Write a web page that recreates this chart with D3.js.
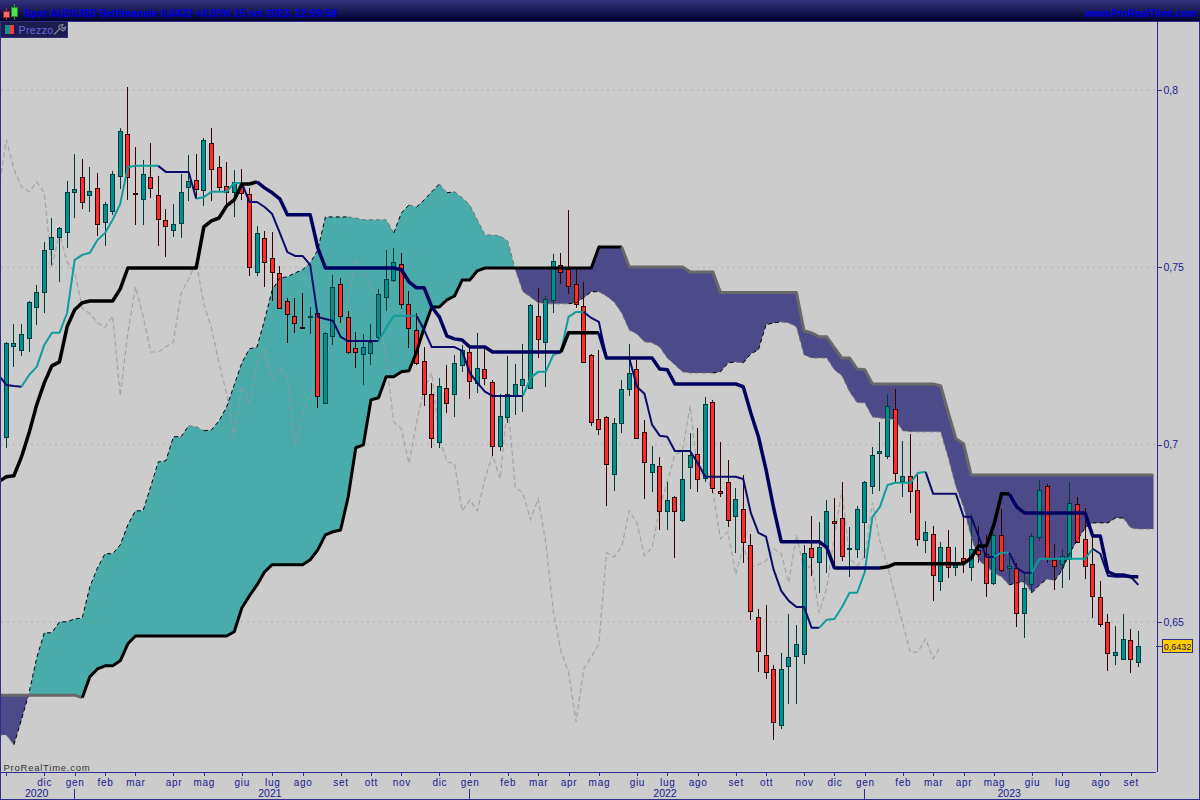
<!DOCTYPE html>
<html>
<head>
<meta charset="utf-8">
<title>Spot AUD/USD</title>
<script src="https://cdn.jsdelivr.net/npm/d3@7"></script>
<style>
  html, body { margin: 0; padding: 0; background: #cccccc; overflow: hidden; }
  svg { display: block; }
  text { font-family: "Liberation Sans", Arial, sans-serif; }
  .axis path, .axis line { stroke: #2e2e8c; shape-rendering: crispEdges; }
  .axis text { fill: #1a1a8c; }
</style>
</head>
<body>
<div id="chart"></div>
<script>
// weekly candles, values in pips (price x 10000), first candle = week 0
const high = [
  7290,7340,7340,7405,7450,7572,7639,7614,7744,7820,
  7806,7783,7766,7684,7772,7893,8009,7839,7803,7851,
  7758,7665,7679,7763,7817,7820,7865,7893,7814,7797,
  7775,7777,7724,7617,7603,7600,7504,7414,7414,7428,
  7388,7374,7318,7478,7470,7377,7318,7312,7340,7439,
  7549,7555,7541,7433,7371,7275,7174,7188,7225,7253,
  7281,7273,7315,7273,7182,7143,7250,7228,7284,7397,
  7442,7419,7538,7541,7662,7495,7459,7256,7267,7081,
  7075,7182,7284,7239,7070,6996,6965,6895,6855,6979,
  7033,7047,7134,7126,7008,6957,6878,6915,6748,6537,
  6548,6379,6413,6523,6491,6717,6799,6782,6844,6850,
  6895,6768,6827,6898,6993,7064,7143,7157,7010,7030,
  6915,6785,6771,6726,6759,6711,6796,6805,6771,6745,
  6751,6819,6686,6666,6638,6751,6900,6889,6720,6706,
  6895,6852,6821,6740,6616,6522,6489,6522,6480,6475];
const low = [
  6991,7219,7250,7261,7338,7371,7507,7459,7555,7639,
  7665,7656,7588,7560,7648,7721,7690,7620,7620,7696,
  7560,7529,7586,7583,7687,7696,7673,7687,7713,7676,
  7642,7690,7476,7476,7445,7405,7385,7287,7315,7326,
  7312,7103,7115,7281,7343,7256,7216,7168,7225,7292,
  7377,7459,7383,7273,7225,7109,6991,6991,7089,7078,
  7205,7129,7146,7168,6968,6982,7061,7084,7092,7157,
  7244,7163,7371,7453,7425,7385,7233,7053,7027,6827,
  6869,7033,7137,7016,6847,6867,6759,6759,6680,6782,
  6875,6867,6895,6864,6852,6768,6695,6666,6506,6359,
  6339,6167,6198,6269,6269,6382,6630,6582,6638,6664,
  6672,6627,6680,6680,6861,6869,6960,6892,6852,6807,
  6714,6695,6559,6587,6624,6630,6638,6616,6666,6570,
  6604,6641,6610,6486,6455,6582,6728,6666,6590,6596,
  6618,6723,6621,6511,6486,6362,6379,6396,6356,6373];
const open = [
  7022,7278,7267,7301,7388,7431,7552,7586,7600,7713,
  7755,7704,7724,7628,7659,7758,7876,7710,7693,7755,
  7704,7634,7605,7625,7727,7746,7718,7851,7783,7730,
  7713,7727,7707,7487,7583,7526,7484,7405,7363,7332,
  7359,7371,7117,7306,7453,7360,7273,7256,7259,7304,
  7416,7464,7510,7397,7323,7236,7143,7008,7160,7143,
  7225,7261,7174,7213,7177,6996,7078,7137,7168,7160,
  7363,7290,7408,7507,7495,7453,7391,7253,7072,7079,
  6917,7061,7157,7213,7036,6923,6940,6813,6852,6788,
  6937,6974,6906,7120,6869,6895,6799,6819,6717,6514,
  6407,6367,6209,6376,6404,6410,6709,6669,6714,6785,
  6793,6706,6706,6782,6883,6977,6968,7101,6898,6912,
  6872,6731,6748,6616,6711,6655,6680,6655,6703,6692,
  6610,6745,6652,6652,6525,6607,6740,6883,6675,6664,
  6678,6833,6734,6664,6570,6500,6407,6396,6449,6387];
const close = [
  7287,7287,7312,7402,7431,7549,7586,7611,7713,7721,
  7684,7715,7622,7679,7763,7885,7755,7709,7763,7724,
  7636,7617,7622,7713,7744,7721,7859,7777,7727,7713,
  7741,7710,7501,7597,7515,7487,7385,7369,7343,7331,
  7363,7137,7315,7445,7363,7261,7261,7275,7290,7425,
  7467,7515,7397,7329,7230,7143,7019,7166,7118,7230,
  7267,7180,7216,7188,6996,7081,7143,7171,7185,7394,
  7298,7411,7518,7487,7447,7397,7233,7064,7044,6946,
  7061,7157,7202,7019,6951,6946,6813,6844,6813,6903,
  6971,6903,7115,6878,6864,6788,6847,6726,6531,6418,
  6359,6218,6367,6401,6438,6695,6683,6711,6813,6779,
  6686,6709,6819,6895,6971,6982,7109,6920,6912,6869,
  6734,6754,6633,6711,6655,6661,6672,6706,6692,6610,
  6745,6647,6658,6525,6596,6742,6872,6680,6658,6686,
  6836,6726,6658,6573,6494,6413,6415,6452,6396,6432];

// ichimoku lines, these start one week before the first candle (week -1)
const tenkan = [7196,
  7168,7165,7163,7196,7219,7281,7315,7315,7371,7521,
  7535,7541,7577,7597,7634,7679,7783,7786,7786,7786,
  7786,7769,7769,7769,7769,7693,7698,7713,7713,7713,
  7738,7738,7684,7684,7670,7650,7597,7543,7532,7532,
  7507,7360,7354,7349,7304,7292,7292,7292,7292,7292,
  7329,7363,7363,7363,7363,7323,7275,7275,7275,7275,
  7264,7202,7174,7149,7137,7137,7137,7137,7137,7188,
  7205,7205,7253,7261,7360,7374,7374,7357,7346,7244,
  7244,7244,7244,7163,7143,7056,7025,7022,6982,6982,
  6982,6948,6909,6909,6909,6909,6909,6903,6807,6751,
  6740,6647,6587,6559,6542,6542,6483,6483,6506,6508,
  6542,6582,6582,6641,6796,6824,6886,6892,6892,6892,
  6920,6923,6861,6861,6861,6861,6796,6796,6740,6683,
  6683,6695,6695,6652,6638,6638,6678,6678,6678,6678,
  6678,6678,6678,6706,6692,6630,6627,6627,6627,6604];
const kijun = [6895,
  6909,6912,6965,7033,7112,7174,7222,7233,7332,7380,
  7400,7405,7405,7405,7405,7439,7498,7498,7498,7498,
  7498,7498,7498,7498,7498,7498,7614,7631,7639,7673,
  7690,7735,7735,7741,7724,7710,7693,7648,7648,7648,
  7648,7555,7498,7498,7498,7498,7498,7498,7498,7498,
  7498,7498,7493,7459,7442,7442,7388,7360,7306,7298,
  7295,7275,7275,7275,7261,7261,7261,7261,7261,7261,
  7261,7261,7261,7261,7315,7315,7315,7315,7315,7244,
  7244,7244,7244,7244,7244,7244,7213,7211,7171,7171,
  7171,7171,7171,7171,7171,7171,7171,7163,7089,7022,
  6929,6821,6726,6726,6726,6726,6726,6726,6709,6652,
  6652,6652,6652,6652,6652,6652,6655,6664,6664,6664,
  6664,6664,6664,6664,6664,6664,6664,6680,6714,6714,
  6774,6861,6861,6824,6807,6807,6807,6807,6807,6807,
  6807,6807,6807,6742,6742,6641,6632,6632,6627,6627];
const spanA = [6181,
  6181,6153,6224,6300,6398,6469,6469,6500,6500,6508,
  6511,6599,6652,6692,6692,6717,6774,6813,6813,6881,
  6951,6954,7022,7022,7053,7050,7039,7041,7067,7106,
  7168,7230,7270,7275,7352,7436,7470,7473,7484,7493,
  7512,7549,7642,7642,7642,7642,7639,7634,7634,7634,
  7634,7597,7653,7676,7670,7690,7713,7735,7710,7713,
  7696,7676,7634,7591,7591,7588,7574,7493,7431,7416,
  7400,7397,7397,7397,7397,7400,7414,7431,7431,7419,
  7402,7371,7323,7312,7290,7287,7275,7244,7225,7205,
  7202,7202,7202,7202,7205,7230,7233,7230,7256,7267,
  7338,7343,7346,7343,7332,7253,7244,7244,7244,7211,
  7194,7149,7118,7118,7078,7075,7072,7070,7039,7036,
  7036,7036,7036,7036,6962,6881,6824,6740,6675,6655,
  6638,6627,6604,6610,6613,6582,6604,6621,6616,6647,
  6695,6731,6765,6779,6779,6779,6793,6793,6765,6762,
  6762,6762];
const spanB = [6293,
  6293,6293,6293,6293,6293,6293,6293,6293,6293,6293,
  6286,6345,6367,6376,6376,6390,6438,6460,6460,6460,
  6460,6460,6460,6460,6460,6460,6460,6460,6460,6460,
  6472,6539,6573,6604,6641,6661,6661,6661,6661,6661,
  6675,6703,6745,6754,6759,6852,6991,6999,7126,7132,
  7191,7191,7205,7208,7261,7329,7388,7388,7408,7419,
  7464,7464,7490,7498,7498,7498,7498,7498,7498,7498,
  7498,7498,7498,7498,7498,7498,7498,7498,7557,7557,
  7557,7557,7501,7501,7501,7501,7501,7501,7501,7501,
  7487,7487,7487,7487,7429,7429,7429,7429,7429,7429,
  7429,7429,7429,7429,7429,7321,7315,7304,7304,7273,
  7244,7244,7213,7211,7171,7171,7171,7171,7171,7171,
  7171,7171,7171,7165,7089,7016,7002,6914,6914,6914,
  6914,6914,6914,6914,6914,6914,6914,6914,6914,6914,
  6914,6914,6914,6914,6914,6914,6914,6914,6914,6914,
  6914,6914];
const lagging = [
  7721,7859,7777,7727,7713,7741,7710,7501,7597,7515,
  7487,7385,7369,7343,7331,7363,7137,7315,7445,7363,
  7261,7261,7275,7290,7425,7467,7515,7397,7329,7230,
  7143,7019,7166,7118,7230,7267,7180,7216,7188,6996,
  7081,7143,7171,7185,7394,7298,7411,7518,7487,7447,
  7397,7233,7064,7044,6946,7061,7157,7202,7019,6951,
  6946,6813,6844,6813,6903,6971,6903,7115,6878,6864,
  6788,6847,6726,6531,6418,6359,6218,6367,6401,6438,
  6695,6683,6711,6813,6779,6686,6709,6819,6895,6971,
  6982,7109,6920,6912,6869,6734,6754,6633,6711,6655,
  6661,6672,6706,6692,6610,6745,6647,6658,6525,6596,
  6742,6872,6680,6658,6686,6836,6726,6658,6573,6494,
  6413,6415,6452,6396,6432];

// axis labels
const monthWeeks = [0,5,9,13,17,22,26,31,35,39,44,48,52,57,61,66,70,74,78,83,87,91,96,100,105,109,113,118,122,126,130,135,139,144,148];
const monthNames = ['','dic','gen','feb','mar','apr','mag','giu','lug','ago','set','ott','nov','dic','gen','feb','mar','apr','mag','giu','lug','ago','set','ott','nov','dic','gen','feb','mar','apr','mag','giu','lug','ago','set'];
const yearWeeks = [9,61,113];
const yearNames = ['2020','2021','2022','2023'];
const yearLabelWeeks = [4,34.7,86.7,132];
const priceTicks = [0.8,0.75,0.7,0.65];
const lastPrice = 0.6432;
const titleText = 'Spot AUD/USD  Settimanale 0,6432 +0,03% 15 set 2023, 22:59:58';

const svg_width = 1200;
const svg_height = 800;
const plot = {left:1, right:1156, top:22, bottom:772};

const svg = d3.select('#chart').append('svg')
    .attr('width', svg_width).attr('height', svg_height);

// scales: week number -> x, price -> y
const xScale = d3.scaleLinear().domain([0,149]).range([6.3,1138.3]);
const yScale = d3.scaleLinear().domain([0.8,0.65]).range([90,621.8]);
const yPips = p => yScale(p/10000);

const defs = svg.append('defs');
const headGrad = defs.append('linearGradient').attr('id','headGrad')
    .attr('x1',0).attr('x2',0).attr('y1',0).attr('y2',1);
headGrad.append('stop').attr('offset',0).attr('stop-color','#34347e');
headGrad.append('stop').attr('offset',1).attr('stop-color','#000030');
defs.append('clipPath').attr('id','plotClip').append('rect')
    .attr('x',plot.left).attr('y',plot.top)
    .attr('width',plot.right-plot.left).attr('height',plot.bottom-plot.top);

svg.append('rect').attr('width',svg_width).attr('height',svg_height).attr('fill','#cccccc');

// dotted price grid
svg.append('g').selectAll('line').data(priceTicks).join('line')
    .attr('x1',plot.left).attr('x2',plot.right)
    .attr('y1',d=>yScale(d)).attr('y2',d=>yScale(d))
    .attr('stroke','#bcbcbc').attr('stroke-width',2).attr('stroke-dasharray','2 4');

const chart = svg.append('g').attr('clip-path','url(#plotClip)');

// cloud: merge both spans and add the crossing points so each side closes cleanly
function cloudPoints(){
    const pts = [];
    spanA.forEach((a,k)=>{
        const b = spanB[k];
        if(k>0){
            const pa = spanA[k-1], pb = spanB[k-1];
            if((pa-pb)*(a-b)<0){
                const t = (pa-pb)/((pa-pb)-(a-b));
                const v = pa+(a-pa)*t;
                pts.push({w:k-2+t,a:v,b:v});
            }
        }
        pts.push({w:k-1,a:a,b:b});
    });
    return pts;
}
const cloud = cloudPoints();
const bullArea = d3.area().x(d=>xScale(d.w)).y0(d=>yPips(d.b)).y1(d=>yPips(Math.max(d.a,d.b)));
const bearArea = d3.area().x(d=>xScale(d.w)).y0(d=>yPips(d.a)).y1(d=>yPips(Math.max(d.a,d.b)));
chart.append('path').datum(cloud).attr('d',bullArea).attr('fill','rgb(60,167,167)').attr('fill-opacity',0.9);
chart.append('path').datum(cloud).attr('d',bearArea).attr('fill','rgb(63,60,131)').attr('fill-opacity',0.9);

// lagging line, thin grey dashes
const lineGen = d3.line().x(d=>xScale(d[0])).y(d=>yPips(d[1]));
chart.append('path').datum(lagging.map((v,k)=>[k-1,v])).attr('d',lineGen)
    .attr('fill','none').attr('stroke','#9a9a9a').attr('stroke-opacity',0.8)
    .attr('stroke-width',1.2).attr('stroke-dasharray','5 3');

// candles
const weeks = d3.range(high.length);
const colX = i => Math.floor(xScale(i))+0.5;
const colY = v => Math.round(yPips(v));
const candles = chart.append('g').selectAll('g').data(weeks).join('g');
candles.append('line')
    .attr('x1',colX).attr('x2',colX)
    .attr('y1',i=>colY(high[i])).attr('y2',i=>colY(low[i]))
    .attr('stroke',i=>close[i]>open[i]?'#003c3c':'#3a0000')
    .attr('shape-rendering','crispEdges');
candles.append('rect')
    .attr('x',i=>colX(i)-2).attr('width',4)
    .attr('y',i=>colY(Math.max(open[i],close[i]))+0.5)
    .attr('height',i=>Math.max(1,colY(Math.min(open[i],close[i]))-colY(Math.max(open[i],close[i]))))
    .attr('fill',i=>close[i]>open[i]?'#009090':'#ff2a2a')
    .attr('stroke',i=>close[i]>open[i]?'#003c3c':'#2a0000')
    .attr('stroke-width',1)
    .attr('shape-rendering','crispEdges');

// a line takes its colour from its direction, a flat stretch keeps the last colour
function colorRuns(vals, start, upColor, downColor){
    const runs = [];
    let cur = vals[1]>vals[0] ? upColor : downColor;
    let pts = [[start,vals[0]]];
    for(let k=1;k<vals.length;k++){
        const c = vals[k]>vals[k-1] ? upColor : (vals[k]<vals[k-1] ? downColor : cur);
        if(c!==cur){
            runs.push({color:cur,pts:pts});
            pts = [pts[pts.length-1]];
            cur = c;
        }
        pts.push([start+k,vals[k]]);
    }
    runs.push({color:cur,pts:pts});
    return runs;
}
function drawRuns(vals, upColor, downColor, width, dash){
    chart.append('g').selectAll('path').data(colorRuns(vals,-1,upColor,downColor)).join('path')
        .attr('d',d=>lineGen(d.pts))
        .attr('fill','none').attr('stroke',d=>d.color).attr('stroke-width',width)
        .attr('stroke-linejoin','round').attr('stroke-dasharray',dash||null);
}
drawRuns(spanA,'#000000','#707070',1,'4 3');
drawRuns(spanB,'#000000','#686868',3);
drawRuns(tenkan,'#109c9c','#0c0c6a',2);
drawRuns(kijun,'#000000','#00005e',3.5);

// right price axis
const yAxis = d3.axisRight(yScale).tickValues(priceTicks).tickSize(5).tickSizeOuter(0)
    .tickFormat(d=>String(d).replace('.',','));
svg.append('g').attr('class','axis').attr('transform',`translate(${plot.right+0.5},0)`)
    .call(yAxis)
    .call(g=>g.select('.domain').attr('d',`M0.5,${plot.top}V${plot.bottom}`))
    .selectAll('text').attr('x',7).style('font-size','10.5px');

// bottom month axis
const xAxis = d3.axisBottom(xScale).tickValues(monthWeeks).tickSize(3).tickSizeOuter(0)
    .tickFormat((d,i)=>monthNames[i]);
svg.append('g').attr('class','axis').attr('transform',`translate(0,${plot.bottom+0.5})`)
    .call(xAxis)
    .call(g=>g.select('.domain').attr('d',`M0,0H${plot.right}`))
    .selectAll('text').attr('y',6).style('font-size','10px').style('letter-spacing','0.7px');

// years: divider at each january
svg.append('g').selectAll('line').data(yearWeeks).join('line')
    .attr('x1',colX).attr('x2',colX).attr('y1',789).attr('y2',799)
    .attr('stroke','#2e2e8c').attr('shape-rendering','crispEdges');
svg.append('g').selectAll('text').data(yearNames).join('text')
    .attr('x',(d,i)=>xScale(yearLabelWeeks[i])).attr('y',797)
    .attr('text-anchor','middle').attr('fill','#1a1a8c').style('font-size','10.5px')
    .text(d=>d);

// last price flag
const lastY = Math.round(yScale(lastPrice));
svg.append('line').attr('x1',plot.right).attr('x2',1162).attr('y1',lastY+0.5).attr('y2',lastY+0.5)
    .attr('stroke','#2e2e8c');
svg.append('rect').attr('x',1162.5).attr('y',lastY-6.5).attr('width',30).attr('height',13)
    .attr('fill','#ffcc00').attr('stroke','#2e2e8c');
svg.append('text').attr('x',1177.5).attr('y',lastY+3.5).attr('text-anchor','middle')
    .attr('fill','#101060').style('font-size','9px').text(String(lastPrice).replace('.',','));

// watermark
svg.append('text').attr('x',3.5).attr('y',770.5).attr('fill','#333333')
    .style('font-size','9.5px').style('letter-spacing','0.75px').text('ProRealTime.com');

// header bar
svg.append('rect').attr('width',svg_width).attr('height',21).attr('fill','url(#headGrad)');
svg.append('line').attr('x1',0).attr('x2',svg_width).attr('y1',21.5).attr('y2',21.5).attr('stroke','#2e2e8c');
svg.append('text').attr('x',24).attr('y',16.5).attr('fill','#0000e6')
    .style('font-size','10.4px').style('font-weight','bold').text(titleText);
svg.append('text').attr('x',1197).attr('y',16.5).attr('text-anchor','end').attr('fill','#0000e6')
    .style('font-size','10.2px').style('font-weight','bold').text('www.ProRealTime.com');

// little candle logo in the header
const logo = svg.append('g');
logo.append('line').attr('x1',6.5).attr('x2',6.5).attr('y1',8).attr('y2',20).attr('stroke','#c03030');
logo.append('rect').attr('x',3.5).attr('y',11.5).attr('width',6).attr('height',6).attr('fill','#f07070').attr('stroke','#a02020');
logo.append('line').attr('x1',14.5).attr('x2',14.5).attr('y1',4).attr('y2',20).attr('stroke','#20a020');
logo.append('rect').attr('x',11.5).attr('y',7.5).attr('width',6).attr('height',9).attr('fill','#50e050').attr('stroke','#209020');

// price panel tab
svg.append('rect').attr('x',0.5).attr('y',21.5).attr('width',67).attr('height',16)
    .attr('fill','#1c1c50').attr('stroke','#2e2e7c');
svg.append('rect').attr('x',5).attr('y',25).attr('width',5).attr('height',9).attr('fill','#109090');
svg.append('rect').attr('x',10).attr('y',25).attr('width',4).attr('height',9).attr('fill','#ff3c3c');
svg.append('text').attr('x',18.5).attr('y',34).attr('fill','#6a6ae0')
    .style('font-size','10.5px').style('letter-spacing','0.4px').text('Prezzo');
// wrench icon
svg.append('path').attr('d','M54,34.5 L60,28.5 M60.5,29 L58.5,27 L60,25 L63,24.5 L61.5,27 L63,28.5 L65.5,27 L65,29.5 L63,31 Z')
    .attr('fill','none').attr('stroke','#85859a').attr('stroke-width',1.1);

// outer frame
svg.append('line').attr('x1',0.5).attr('x2',0.5).attr('y1',22).attr('y2',800).attr('stroke','#2e2e8c');
svg.append('line').attr('x1',1199.5).attr('x2',1199.5).attr('y1',22).attr('y2',800).attr('stroke','#2e2e8c');
svg.append('line').attr('x1',0).attr('x2',1200).attr('y1',799.5).attr('y2',799.5).attr('stroke','#2e2e8c');
</script>
</body>
</html>
